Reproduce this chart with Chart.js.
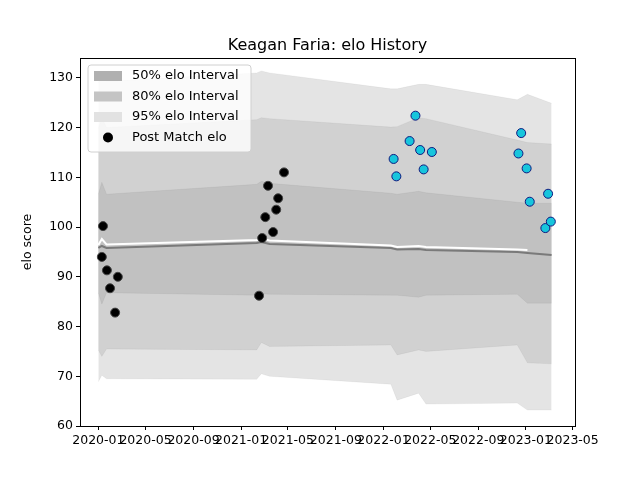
<!DOCTYPE html>
<html>
<head>
<meta charset="utf-8">
<script src="https://cdn.jsdelivr.net/npm/chart.js@4/dist/chart.umd.min.js"></script>
<style>
  body { margin: 0; background: #fff; }
  #wrap { width: 640px; height: 480px; }
</style>
</head>
<body>
<div id="wrap"><canvas id="chart" width="640" height="480"></canvas></div>
<script>
// band knots
var bandDates = ['2020-01-01', '2020-01-10', '2020-01-22', '2021-02-10', '2021-02-22', '2021-03-15',
    '2022-01-20', '2022-02-05', '2022-04-01', '2022-04-20', '2022-12-10', '2023-01-05', '2023-03-08'];
var mean     = [95.8, 96.2, 95.8, 96.8, 97.0, 96.6, 95.8, 95.5, 95.6, 95.4, 95.0, 94.8, 94.4];
var preMean  = [96.4, 97.6, 96.5, 97.4, 97.7, 97.3, 96.3, 96.0, 96.2, 96.0, 95.5, 95.4, null];
var top50    = [106.6, 109.0, 106.6, 108.6, 109.2, 108.8, 106.8, 106.6, 107.2, 106.9, 105.0, 104.8, 104.8];
var bot50    = [86.8, 84.5, 86.8, 86.3, 86.6, 86.5, 86.3, 86.3, 85.9, 86.3, 86.5, 84.7, 84.7];
var top80    = [119.8, 122.0, 120.0, 121.6, 122.0, 121.8, 120.1, 120.2, 122.0, 121.8, 117.5, 117.0, 116.7];
var bot80    = [75.3, 74.0, 75.5, 75.3, 76.8, 76.0, 76.3, 74.3, 75.3, 75.0, 76.3, 72.7, 72.5];
var top95    = [129.0, 131.0, 129.3, 131.0, 131.4, 131.0, 127.8, 127.8, 128.7, 128.7, 125.6, 126.7, 124.9];
var bot95    = [68.9, 70.2, 69.5, 69.4, 70.5, 70.0, 68.4, 65.2, 66.6, 64.4, 64.6, 63.2, 63.2];

var pastDates = ['2020-01-10', '2020-01-13', '2020-01-23', '2020-01-31', '2020-02-13', '2020-02-20',
    '2021-02-16', '2021-02-24', '2021-03-04', '2021-03-11', '2021-03-24', '2021-04-01', '2021-04-06', '2021-04-21'];
var pastElo = [94.0, 100.2, 91.3, 87.7, 82.8, 90.0, 86.2, 97.8, 102.0, 108.3, 99.0, 103.5, 105.8, 111.0];

var recentDates = ['2022-01-27', '2022-02-03', '2022-03-09', '2022-03-24', '2022-04-05', '2022-04-14', '2022-05-05',
    '2022-12-13', '2022-12-20', '2023-01-03', '2023-01-11', '2023-02-20', '2023-02-27', '2023-03-06'];
var recentElo = [113.7, 110.2, 117.3, 122.4, 115.5, 111.6, 115.1, 114.8, 118.9, 111.8, 105.1, 99.8, 106.7, 101.1];

var tickMonths = ['2020-01', '2020-05', '2020-09', '2021-01', '2021-05', '2021-09', '2022-01',
    '2022-05', '2022-09', '2023-01', '2023-05'];
var yTicks = [60, 70, 80, 90, 100, 110, 120, 130];

function ts(s) { return Date.parse(s.length === 7 ? s + '-01' : s); }
function pts(dates, vals) {
    return dates.map(function (d, i) { return {x: ts(d), y: vals[i]}; });
}
function pad2(n) { return (n < 10 ? '0' : '') + n; }

var legendItems = [
    {label: '50% elo Interval', color: '#b0b0b0', kind: 'rect'},
    {label: '80% elo Interval', color: '#c4c4c4', kind: 'rect'},
    {label: '95% elo Interval', color: '#e2e2e2', kind: 'rect'},
    {label: 'Post Match elo', color: '#000', kind: 'dot'}
];

var framePlugin = {
    id: 'frame',
    afterDraw: function (chart) {
        var ctx = chart.ctx, a = chart.chartArea;
        ctx.save();
        ctx.strokeStyle = '#000';
        ctx.lineWidth = 1;
        ctx.strokeRect(a.left + 0.5, a.top + 0.5, a.right - a.left, a.bottom - a.top);
        // title, centred on the plot area
        ctx.fillStyle = '#000';
        ctx.font = '16px "DejaVu Sans"';
        ctx.textAlign = 'center';
        ctx.textBaseline = 'alphabetic';
        ctx.fillText('Keagan Faria: elo History', (a.left + a.right) / 2, a.top - 8);
        // legend box
        ctx.textAlign = 'left';
        var x = a.left + 8, y = a.top + 7, w = 163, h = 87;
        ctx.fillStyle = 'rgba(255,255,255,0.8)';
        ctx.strokeStyle = '#d0d0d0';
        ctx.beginPath();
        ctx.roundRect(x, y, w, h, 3);
        ctx.fill();
        ctx.stroke();
        ctx.font = '13px "DejaVu Sans"';
        ctx.textBaseline = 'middle';
        legendItems.forEach(function (it, i) {
            var cy = y + 11 + i * 20.5;
            ctx.fillStyle = it.color;
            if (it.kind === 'rect') {
                ctx.fillRect(x + 6, cy - 5, 28, 10);
            } else {
                ctx.beginPath();
                ctx.arc(x + 20, cy, 5, 0, Math.PI * 2);
                ctx.fill();
            }
            ctx.fillStyle = '#000';
            ctx.fillText(it.label, x + 44, cy);
        });
        ctx.restore();
    }
};

function band(vals, fill, color, order) {
    return {data: pts(bandDates, vals), borderColor: 'rgba(0,0,0,0.04)', borderWidth: 1,
        pointRadius: 0, tension: 0, fill: fill, backgroundColor: color, order: order};
}

new Chart(document.getElementById('chart'), {
    type: 'line',
    data: {
        datasets: [
            band(top95, false, null, 30),
            band(bot95, '-1', '#e4e4e4', 30),
            band(top80, false, null, 20),
            band(bot80, '-1', '#d1d1d1', 20),
            band(top50, false, null, 15),
            band(bot50, '-1', '#c1c1c1', 15),
            {data: pts(bandDates, mean), borderColor: '#7a7a7a', borderWidth: 2, pointRadius: 0,
                fill: false, tension: 0, order: 6},
            {data: pts(bandDates, preMean), borderColor: '#ffffff', borderWidth: 2, pointRadius: 0,
                fill: false, tension: 0, order: 5},
            {type: 'scatter', data: pts(pastDates, pastElo), pointRadius: 4.5, pointBackgroundColor: '#000',
                pointBorderColor: '#444', pointBorderWidth: 1, order: 1},
            {type: 'scatter', data: pts(recentDates, recentElo), pointRadius: 4.5, pointBackgroundColor: '#17c5dc',
                pointBorderColor: '#101a80', pointBorderWidth: 1, order: 0}
        ]
    },
    options: {
        responsive: false,
        animation: false,
        layout: {padding: {left: 20, right: 65, top: 58, bottom: 0}},
        plugins: {
            legend: {display: false},
            tooltip: {enabled: false},
            title: {display: false}
        },
        scales: {
            x: {
                type: 'linear',
                min: ts('2019-11-15'),
                max: ts('2023-05-07'),
                afterBuildTicks: function (axis) {
                    axis.ticks = tickMonths.map(function (m) { return {value: ts(m)}; });
                },
                afterFit: function (axis) { axis.height = 54; },
                ticks: {
                    autoSkip: false,
                    maxRotation: 0,
                    color: '#000',
                    font: {family: 'DejaVu Sans', size: 12.5},
                    callback: function (v) {
                        var d = new Date(v);
                        return d.getUTCFullYear() + '-' + pad2(d.getUTCMonth() + 1);
                    }
                },
                grid: {drawOnChartArea: false, tickLength: 4, color: '#000'},
                border: {display: false}
            },
            y: {
                min: 60,
                max: 134,
                afterBuildTicks: function (axis) {
                    axis.ticks = yTicks.map(function (v) { return {value: v}; });
                },
                afterFit: function (axis) { axis.width = 60; },
                ticks: {color: '#000', font: {family: 'DejaVu Sans', size: 12.5}},
                grid: {drawOnChartArea: false, tickLength: 4, color: '#000'},
                border: {display: false},
                title: {display: true, text: 'elo score', color: '#000', padding: 0,
                    font: {family: 'DejaVu Sans', size: 12.5}}
            }
        }
    },
    plugins: [framePlugin]
});
</script>
</body>
</html>
